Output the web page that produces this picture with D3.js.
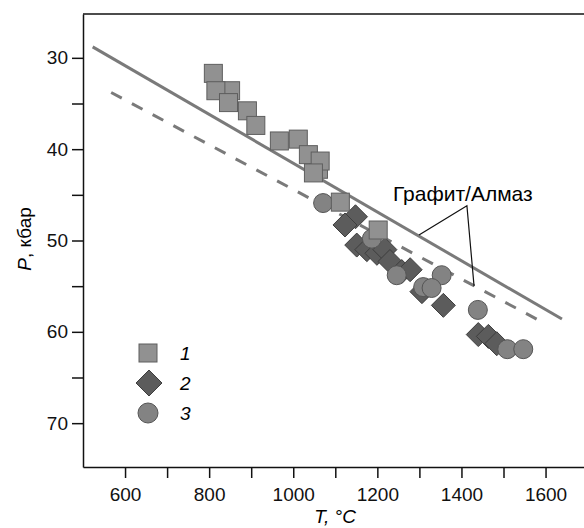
<!DOCTYPE html>
<html>
<head>
<meta charset="utf-8">
<script src="https://cdn.jsdelivr.net/npm/d3@7"></script>
<style>
  body { margin: 0; background: #fff; }
  svg { display: block; font-family: "Liberation Sans", Arial, sans-serif; }
  .axis text { font-size: 19px; fill: #111; }
  .axis path, .axis line { stroke: #111; stroke-width: 1.5; }
</style>
</head>
<body>
<div id="chart"></div>
<script>
// series 1 - squares
const sqT = [851, 810, 816, 846, 891, 911, 967, 1012, 1060, 1036, 1064, 1048, 1112, 1202];
const sqP = [33.6, 31.7, 33.6, 34.9, 35.8, 37.4, 39.1, 38.9, 42.2, 40.6, 41.3, 42.6, 45.8, 48.85];
// series 2 - diamonds
const dmT = [1148, 1123, 1151, 1175, 1199, 1218, 1230, 1258, 1278, 1306, 1357, 1440, 1464, 1484];
const dmP = [47.4, 48.3, 50.5, 51.0, 51.4, 51.0, 52.3, 53.4, 53.2, 55.6, 57.1, 60.3, 60.5, 61.3];
// series 3 - circles
const ciT = [1071, 1187, 1246, 1353, 1309, 1329, 1439, 1509, 1547];
const ciP = [45.9, 49.8, 53.8, 53.8, 55.1, 55.2, 57.6, 61.9, 61.9];
// graphite/diamond boundary lines
const solidLine = [[523, 28.8], [1639, 58.6]];
const dashLine = [[567, 33.8], [1599, 59.1]];
const legendLabels = ['1', '2', '3'];

const w = 584;
const h = 528;
const padLeft = 83, padTop = 14, axisY = 467;

const xScale = d3.scaleLinear().domain([500, 1700]).range([padLeft, padLeft + 1200 * 0.4205]);
const yScale = d3.scaleLinear().domain([25.2, 74.8]).range([padTop, axisY]);

const svg = d3.select('#chart').append('svg')
  .attr('width', w)
  .attr('height', h);

// frame top line
svg.append('line')
  .attr('x1', padLeft).attr('x2', w)
  .attr('y1', padTop).attr('y2', padTop)
  .attr('stroke', '#111').attr('stroke-width', 1.5);

const xAxis = d3.axisBottom(xScale)
  .tickValues(d3.range(600, 1700, 100))
  .tickFormat(d => d % 200 === 0 ? d : '')
  .tickSize(11).tickSizeOuter(0).tickPadding(10);
svg.append('g')
  .attr('class', 'axis')
  .attr('transform', `translate(0, ${axisY})`)
  .call(xAxis);

const yAxis = d3.axisLeft(yScale)
  .tickValues(d3.range(30, 75, 5))
  .tickFormat(d => d % 10 === 0 ? d : '')
  .tickSize(11).tickSizeOuter(0).tickPadding(4);
svg.append('g')
  .attr('class', 'axis')
  .attr('transform', `translate(${padLeft}, 0)`)
  .call(yAxis);

// axis titles
svg.append('text')
  .attr('x', 335).attr('y', 523)
  .attr('text-anchor', 'middle')
  .style('font-size', '19px').style('font-style', 'italic')
  .text('T, °C');

const yt = svg.append('text')
  .attr('transform', 'translate(31, 239) rotate(-90)')
  .attr('text-anchor', 'middle')
  .style('font-size', '19px');
yt.append('tspan').style('font-style', 'italic').text('P');
yt.append('tspan').text(', кбар');

// boundary lines
const line = d3.line().x(d => xScale(d[0])).y(d => yScale(d[1]));
svg.append('path')
  .attr('d', line(solidLine))
  .attr('fill', 'none').attr('stroke', '#7a7a7a').attr('stroke-width', 3);
svg.append('path')
  .attr('d', line(dashLine))
  .attr('fill', 'none').attr('stroke', '#7a7a7a').attr('stroke-width', 3)
  .attr('stroke-dasharray', '12,11.5');

// annotation
svg.append('text')
  .attr('x', xScale(1237)).attr('y', yScale(45.7))
  .style('font-size', '21px')
  .text('Графит/Алмаз');
svg.append('path')
  .attr('d', line([[1299, 49.4], [1413, 46.2], [1430, 55.0]]))
  .attr('fill', 'none').attr('stroke', '#111').attr('stroke-width', 1.2);

// marker drawers
const drawDiamond = (g, cx, cy, r) => g.append('path')
  .attr('d', `M${cx},${cy - r}L${cx + r},${cy}L${cx},${cy + r}L${cx - r},${cy}Z`)
  .attr('fill', '#5c5c5c').attr('stroke', '#3e3e3e').attr('stroke-width', 1);
const drawCircle = (g, cx, cy, r) => g.append('circle')
  .attr('cx', cx).attr('cy', cy).attr('r', r)
  .attr('fill', '#838383').attr('stroke', '#555').attr('stroke-width', 1);
const drawSquare = (g, cx, cy, s) => g.append('rect')
  .attr('x', cx - s / 2).attr('y', cy - s / 2)
  .attr('width', s).attr('height', s)
  .attr('fill', '#919191').attr('stroke', '#5e5e5e').attr('stroke-width', 1);

const marks = svg.append('g');
dmT.forEach((t, i) => drawDiamond(marks, xScale(t), yScale(dmP[i]), 12));
ciT.forEach((t, i) => drawCircle(marks, xScale(t), yScale(ciP[i]), 9.5));
sqT.forEach((t, i) => drawSquare(marks, xScale(t), yScale(sqP[i]), 18));

// legend
const legend = svg.append('g');
drawSquare(legend, 148, 353, 18);
drawDiamond(legend, 149, 383, 13);
drawCircle(legend, 148, 413, 10);
legendLabels.forEach((l, i) => {
  legend.append('text')
    .attr('x', 180).attr('y', 353 + i * 30)
    .attr('dy', '0.35em')
    .style('font-size', '19px').style('font-style', 'italic')
    .text(l);
});
</script>
</body>
</html>
